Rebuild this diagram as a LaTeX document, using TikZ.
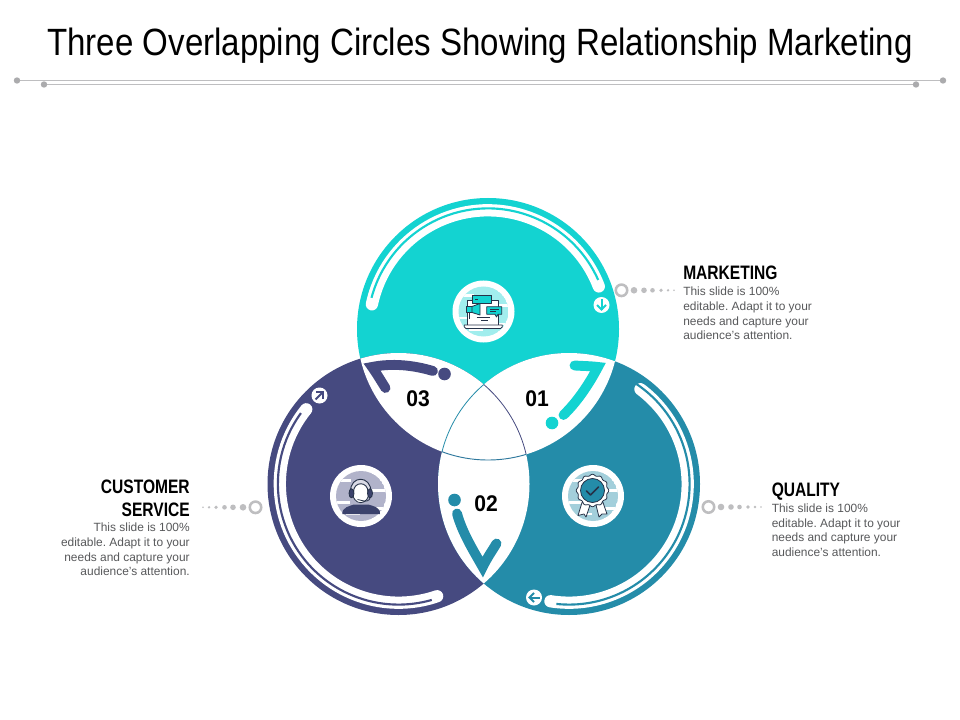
\documentclass[tikz,border=0pt]{standalone}
\usepackage{fontspec}
\setmainfont{Liberation Sans}
\newfontfamily\narrowfont[FakeStretch=0.8]{Liberation Sans}
\newfontfamily\titlefont[FakeStretch=0.87]{Liberation Sans}
\newfontfamily\numfont[FakeStretch=0.93]{Liberation Sans}
\definecolor{topteal}{RGB}{19,211,209}
\definecolor{leftblue}{RGB}{70,74,128}
\definecolor{rightblue}{RGB}{36,140,169}
\definecolor{leadgray}{RGB}{190,190,192}
\definecolor{bodygray}{RGB}{88,89,91}
\definecolor{icondark}{RGB}{38,50,72}
\tikzset{
  headtext/.style={font=\narrowfont\bfseries\fontsize{14.6}{17.2}\selectfont,text=black,inner sep=0pt},
  bodytext/.style={font=\frenchspacing\fontsize{8.95}{11}\selectfont,text=bodygray,inner sep=0pt},
  numtext/.style={font=\numfont\bfseries\fontsize{17}{20}\selectfont,text=black,inner sep=0pt},
  leadring/.style={circle,draw=leadgray,line width=1.9pt,fill=white,minimum size=8.6pt,inner sep=0pt},
  hookline/.style={line width=7.4pt,line cap=round,line join=miter,miter limit=20},
  iconline/.style={draw=icondark,line width=0.6pt,line join=round},
}
\begin{document}
\begin{tikzpicture}[x=0.75pt,y=0.75pt,yscale=-1,xscale=1]
\useasboundingbox (0,0) rectangle (960,720);
\fill[white] (0,0) rectangle (960,720);

%Title
\node [font=\titlefont\fontsize{28.5}{32}\selectfont,text=black,inner sep=0pt] (titletext) at (480,46) {Three Overlapping Circles Showing Relationship Marketing};
%Header lines
\coordinate (hla) at (17,80.5); \coordinate (hlb) at (943,80.5);
\coordinate (hlc) at (44,84.5); \coordinate (hld) at (916,84.5);
\draw [color=leadgray,line width=0.75] (hla) -- (hlb);
\draw [color=leadgray,line width=0.75] (hlc) -- (hld);
\foreach \p in {hla,hlb,hlc,hld}
  \fill [color=leadgray!90!black] (\p) circle (3.2);

%Circles
\fill [topteal] (488,329) circle (131);
\fill [leftblue] (398.5,484) circle (131);
\fill [rightblue] (569,484) circle (131);

%Overlaps
\begin{scope}
\clip (488,329) circle (131);
\fill [white] (398.5,484) circle (131);
\fill [white] (569,484) circle (131);
\end{scope}
\begin{scope}
\clip (398.5,484) circle (131);
\fill [white] (569,484) circle (131);
\end{scope}

%Thin arcs of the middle part
\begin{scope}
\clip (488,329) circle (131);
\clip (569,484) circle (131);
\draw [color=leftblue,line width=0.6] (398.5,484) circle (131);
\end{scope}
\begin{scope}
\clip (488,329) circle (131);
\clip (398.5,484) circle (131);
\draw [color=rightblue,line width=0.6] (569,484) circle (131);
\end{scope}
\begin{scope}
\clip (398.5,484) circle (131);
\clip (569,484) circle (131);
\draw [color=rightblue!70!leftblue,line width=0.7] (488,329) circle (131);
\end{scope}

%Double bands along the rims
\foreach \cx/\cy/\sa/\ea/\ga/\gb/\col in {488/329/-168/-21/-165/-24/topteal,
    398.5/484/-141/-289/-144/-286/leftblue, 569/484/-53/99/-56/96/rightblue}{
  \draw [white,line width=9.2pt,line cap=round] (\cx,\cy) ++(\sa:118.7) arc [start angle=\sa,end angle=\ea,radius=118.7];
  \draw [\col,line width=1.6pt] (\cx,\cy) ++(\ga:120.6) arc [start angle=\ga,end angle=\gb,radius=120.6];
}

%Small arrow discs
\foreach \px/\py/\rot/\col in {601.5/305/0/topteal, 319.5/395.5/225/leftblue, 534/597.5/90/rightblue}{
  \begin{scope}[shift={(\px,\py)},rotate=\rot]
  \fill [white] (0,0) circle (8);
  \draw [\col,line width=1.5pt] (0,-5.5) -- (0,4.5);
  \draw [\col,line width=1.5pt] (-4.5,0) -- (0,4.5) -- (4.5,0);
  \end{scope}
}

%Hooks in the overlaps
\draw [hookline,color=leftblue] (385.5,388) .. controls (381,381) and (377,374) .. (372,367) .. controls (392,363) and (413,365) .. (433,371);
\fill [leftblue] (444.5,374) circle (6.3);
\draw [hookline,color=topteal] (563.5,415) .. controls (576,403) and (588,386) .. (598,367) .. controls (590,366) and (582,366) .. (574.5,365.5);
\fill [topteal] (552,423) circle (6.3);
\draw [hookline,color=rightblue] (457,513.5) .. controls (462,532) and (473,550) .. (482.7,567) .. controls (487,558) and (492,551) .. (496.5,543.5);
\fill [rightblue] (454.5,500) circle (6.3);

%Numbers
\node [numtext] (numc) at (418,398.5) {03};
\node [numtext] (numa) at (537,398.5) {01};
\node [numtext] (numb) at (486,504) {02};

%Icon discs
\foreach \px/\py/\col/\pale in {483.5/311.5/topteal/topteal!40, 361/496/leftblue/leftblue!42, 593/496/rightblue/rightblue!42}{
  \fill [white] (\px,\py) circle (31);
  \begin{scope}
  \clip (\px,\py) circle (25);
  \fill [\pale] (\px,\py) circle (25);
  \fill [white] (\px-26,\py-17) rectangle ++(16,2.5);
  \fill [white] (\px+10,\py-7) rectangle ++(16,2.5);
  \fill [white] (\px-26,\py+5) rectangle ++(15,2.5);
  \fill [white] (\px+12,\py+11) rectangle ++(14,2.5);
  \fill [white] (\px-15,\py+17) rectangle ++(14,2);
  \end{scope}
}

%Icon: laptop with megaphone
\begin{scope}
\draw [iconline,fill=white] (467.7,300) rectangle (498.3,325);
\draw [iconline,fill=topteal] (472.7,295) rectangle (491.7,303);
\draw [iconline,fill=white] (464.3,325) -- (502.3,325) -- (502.3,327) -- (500.5,328.5) -- (466,328.5) -- (464.3,327) -- cycle;
\draw [iconline,fill=topteal] (466.5,306.5) rectangle (472,312.5);
\draw [iconline,fill=topteal] (472,306.5) -- (480,303.5) -- (480,315) -- (472,312.5) -- cycle;
\draw [iconline] (469,312.5) -- (469,319);
\draw [iconline,fill=topteal] (486.7,306.7) -- (501.7,306.7) -- (501.7,314.3) -- (498,314.3) -- (496.5,317) -- (495,314.3) -- (486.7,314.3) -- cycle;
\draw [iconline] (490,309.5) -- (498.5,309.5) (490,311.8) -- (496,311.8);
\draw [iconline] (476.5,317) -- (490,317) (481,320.5) -- (488,320.5);
\draw [iconline] (475,299) -- (478,299);
\end{scope}

%Icon: agent with headset
\begin{scope}
\fill [icondark!35!leftblue] (342.3,514) .. controls (342,507) and (350,506) .. (354,504.5) -- (368,504.5) .. controls (373,506) and (380.5,507) .. (380,514) -- cycle;
\draw [iconline,fill=white] (360.7,491.7) ellipse (8.5 and 11);
\draw [iconline,fill=white!80!leftblue,line width=0.7pt] (350.5,492) .. controls (350,475) and (371,475) .. (371,492) -- (368,492) .. controls (368,481) and (353.5,481) .. (353.5,492) -- cycle;
\draw [iconline,fill=icondark!35!leftblue] (351.5,493.3) ellipse (2.5 and 4.6);
\draw [iconline,fill=icondark!35!leftblue] (370,493.3) ellipse (2.5 and 4.6);
\draw [iconline] (370,498) .. controls (369.5,501) and (366,501.5) .. (362,501);
\fill [white] (360.5,500) ellipse (3.5 and 1.8);
\draw [iconline] (357.5,499.5) -- (364,501);
\end{scope}

%Icon: badge with ribbon
\begin{scope}
\draw [iconline,fill=white] (582,502.5) -- (578,515.5) -- (584,514) -- (586,517) -- (590,505) -- cycle;
\draw [iconline,fill=white] (596,505) -- (599,517) -- (602,514) -- (607,514) -- (603,502.5) -- cycle;
\draw [iconline,fill=white] plot [smooth cycle,samples=72,domain=0:355] ({592.5+(15.5+0.8*cos(12*\x))*cos(\x)},{490.5+(15.5+0.8*cos(12*\x))*sin(\x)});
\draw [iconline,fill=rightblue] (592.5,490.5) circle (12);
\draw [icondark,line width=1.3pt,line cap=round,line join=round] (586.5,491) -- (590.5,495) -- (598.5,487);
\end{scope}

%Leader dots
\node [leadring] (ringa) at (621.5,290.3) {};
\node [leadring] (ringb) at (708.5,507) {};
\node [leadring] (ringc) at (255.5,507.3) {};
\foreach \d/\r in {12.5/3.3,22.5/2.8,31/2.3,39.5/1.8,46.5/1.3,52.5/0.9}{
  \fill [leadgray] (621.5+\d,290.3) circle (\r);
  \fill [leadgray] (708.5+\d,507) circle (\r);
  \fill [leadgray] (255.5-\d,507.3) circle (\r);
}

%Texts
\node [headtext,anchor=west] (headm) at (683,273) {MARKETING};
\node [bodytext,anchor=north west,align=left] (bodym) at (683,287) {This slide is 100\%\\editable. Adapt it to your\\needs and capture your\\audience's attention.};
\node [headtext,anchor=west] (headq) at (771.5,492) {QUALITY};
\node [bodytext,anchor=north west,align=left] (bodyq) at (771.5,503.5) {This slide is 100\%\\editable. Adapt it to your\\needs and capture your\\audience's attention.};
\node [headtext,anchor=north east,align=right] (heads) at (190,479.5) {CUSTOMER\\SERVICE};
\node [bodytext,anchor=north east,align=right] (bodys) at (190,523) {This slide is 100\%\\editable. Adapt it to your\\needs and capture your\\audience's attention.};

\end{tikzpicture}
\end{document}
